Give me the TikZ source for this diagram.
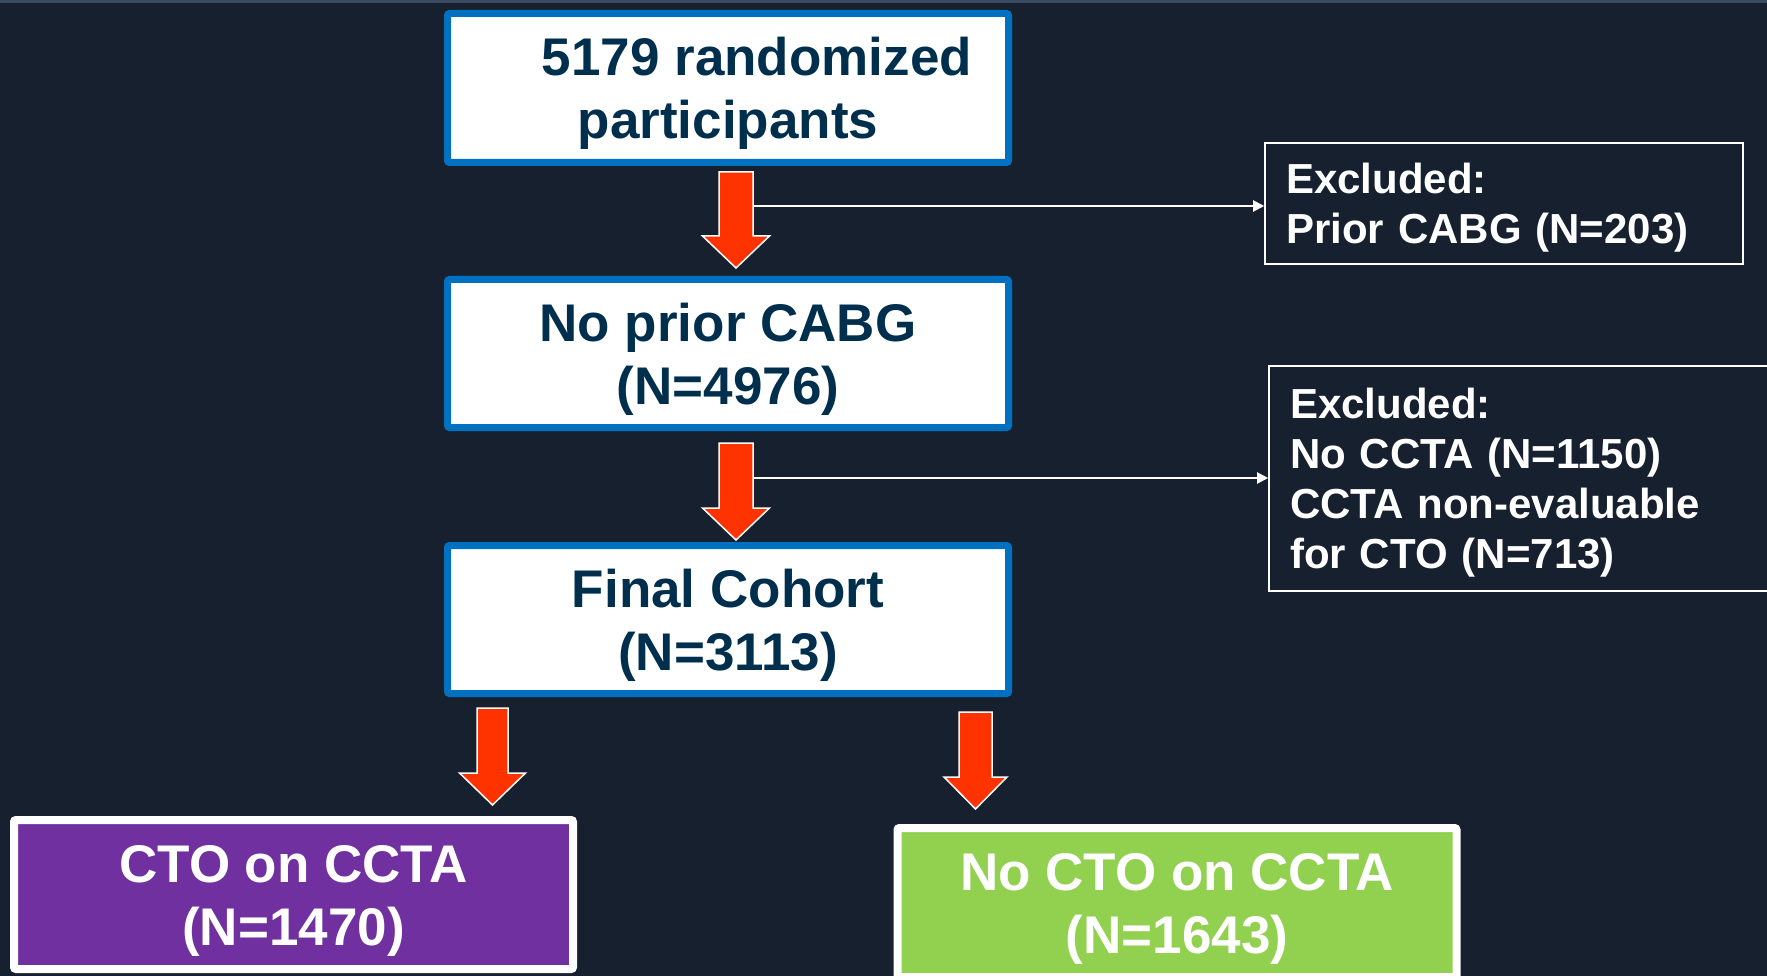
\documentclass[tikz,border=0pt]{standalone}
\usepackage{fontspec}
\setmainfont{Liberation Sans}
\usetikzlibrary{arrows.meta}
\definecolor{bg}{HTML}{16202E}
\definecolor{strip}{HTML}{3A4B63}
\definecolor{boxblue}{HTML}{0070C0}
\definecolor{navy}{HTML}{002F4E}
\definecolor{arrred}{HTML}{FF3300}
\definecolor{purp}{HTML}{7030A0}
\definecolor{lgreen}{HTML}{92D050}
\newcommand{\blkarrow}[6]{% cx, half shaft, half head, top, headstart, tip
  \filldraw[redarrow] (#1-#2,#4) -- (#1+#2,#4) -- (#1+#2,#5) -- (#1+#3,#5)
    -- (#1,#6) -- (#1-#3,#5) -- (#1-#2,#5) -- cycle;}
\begin{document}
\begin{tikzpicture}[x=1pt,y=-1pt,
  bluebox/.style={draw=boxblue, fill=white, line width=7pt, rounded corners=2pt,
    minimum width=561pt, inner sep=0pt, align=center, text=navy,
    font=\fontsize{53}{63}\selectfont\bfseries, text height=101pt, text depth=0pt},
  exbox/.style={draw=white, line width=1.6pt, text=white, align=left,
    font=\fontsize{42}{50.3}\selectfont\bfseries, inner xsep=21pt, inner ysep=0pt,
    text height=30pt},
  colbox/.style={draw=white, line width=8pt, rounded corners=2pt, text=white,
    minimum width=559pt, minimum height=149pt, inner sep=0pt, align=center,
    font=\fontsize{53}{63}\selectfont\bfseries, text height=101pt, text depth=0pt},
  redarrow/.style={fill=arrred, draw=white, line width=1.5pt, line join=miter},
  conn/.style={draw=white, line width=2pt, -{Triangle[length=11pt,width=11pt]}}]
\useasboundingbox (0,0) rectangle (1767,976);
\clip (0,0) rectangle (1767,976);
\fill[bg] (0,0) rectangle (1767,976);
\fill[strip] (0,0) rectangle (1767,3);

\node[bluebox, minimum height=149pt] (b1) at (728,88)
  {\hspace*{58pt}5179 randomized\\participants};
\node[bluebox, minimum height=148pt] (b2) at (728,353.5)
  {No prior CABG\\(N=4976)};
\node[bluebox, minimum height=148pt] (b3) at (728,619.5)
  {Final Cohort\\(N=3113)};

\node[exbox, text width=436pt, minimum height=121.5pt, text depth=50.3pt] (ex1) at (1504,203.5)
  {Excluded:\\Prior CABG (N=203)};
\node[exbox, text width=489pt, minimum height=225.5pt, text depth=151pt] (ex2) at (1534.5,478.5)
  {Excluded:\\No CCTA (N=1150)\\CCTA non-evaluable\\for CTO (N=713)};

\node[colbox, fill=purp] (c1) at (293.5,894.5) {CTO on CCTA\\(N=1470)};
\node[colbox, fill=lgreen] (c2) at (1177,902.5) {No CTO on CCTA\\(N=1643)};

\blkarrow{736}{17}{33.5}{172}{236}{268}
\blkarrow{736}{17}{33.5}{443}{508}{540}
\blkarrow{492.5}{15.5}{33}{708}{773}{805}
\blkarrow{975.5}{16.5}{31.5}{712}{777}{809}

\coordinate (s1) at (753,206);
\coordinate (s2) at (754,478);
\draw[conn] (s1) -- (s1 -| ex1.west);
\draw[conn] (s2) -- (s2 -| ex2.west);
\end{tikzpicture}
\end{document}
